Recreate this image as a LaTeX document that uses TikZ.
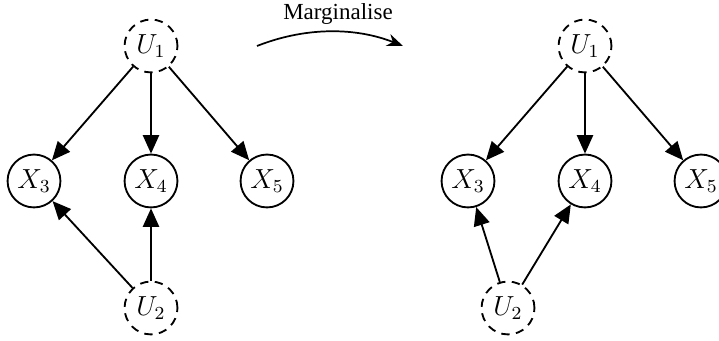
\documentclass[tikz,border=0pt]{standalone}
\usepackage{fontspec}
\newfontfamily\tnr{Liberation Serif}
\usetikzlibrary{arrows.meta}
\begin{document}
\begin{tikzpicture}[x=0.4348pt,y=-0.4348pt,
  var/.style={circle,draw,line width=0.8pt,minimum size=23pt,inner sep=0pt,font=\large},
  latent/.style={var,dash pattern=on 3.6pt off 2.8pt},
  edge/.style={line width=0.8pt,-{Triangle[length=8pt,width=7pt]}},
  marg/.style={line width=0.75pt,-{Stealth[length=7pt,width=5.5pt]}}]
\useasboundingbox (0,0) rectangle (719,341);
% left graph
\node[latent] (lu1) at (151,46) {$U_1$};
\node[var] (lx3) at (34,181) {$X_3$};
\node[var] (lx4) at (151,181) {$X_4$};
\node[var] (lx5) at (267,181) {$X_5$};
\node[latent] (lu2) at (151,308) {$U_2$};
\draw[edge] (lu1) -- (lx3);
\draw[edge] (lu1) -- (lx4);
\draw[edge] (lu1) -- (lx5);
\draw[edge] (lu2) -- (lx3);
\draw[edge] (lu2) -- (lx4);
% arrow
\node[font=\tnr] (mtxt) at (338,14) {Marginalise};
\coordinate (ma) at (257,46);
\coordinate (mb) at (403,46);
\draw[marg] (ma) .. controls (305,27) and (355,27) .. (mb);
% right graph
\node[latent] (ru1) at (585,46) {$U_1$};
\node[var] (rx3) at (468,181) {$X_3$};
\node[var] (rx4) at (585,181) {$X_4$};
\node[var] (rx5) at (701,181) {$X_5$};
\node[latent] (ru2) at (508,308) {$U_2$};
\draw[edge] (ru1) -- (rx3);
\draw[edge] (ru1) -- (rx4);
\draw[edge] (ru1) -- (rx5);
\draw[edge] (ru2) -- (rx3);
\draw[edge] (ru2) -- (rx4);
\end{tikzpicture}
\end{document}
